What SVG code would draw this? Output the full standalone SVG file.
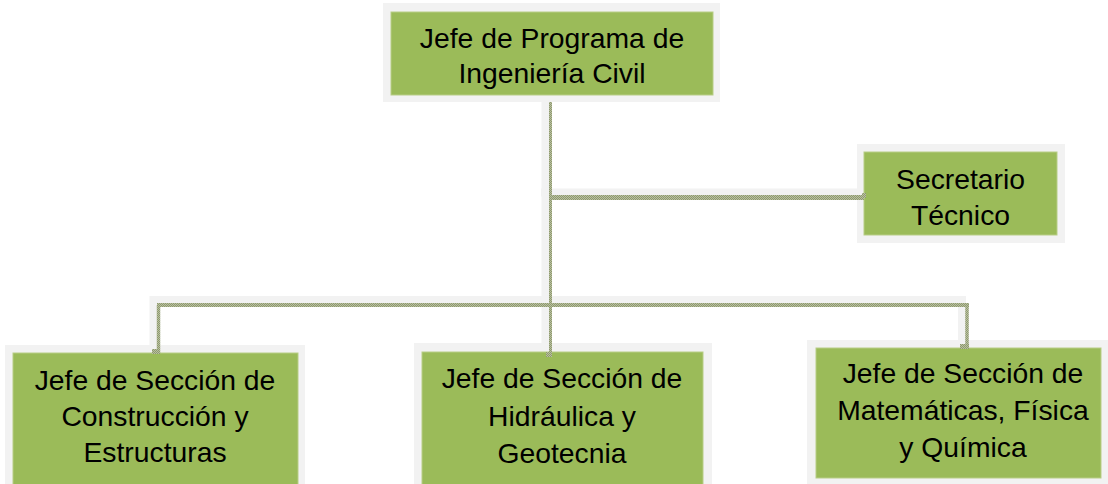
<svg xmlns="http://www.w3.org/2000/svg" width="1108" height="484" viewBox="0 0 1108 484">
  <defs>
    <pattern id="dither" width="2" height="2" patternUnits="userSpaceOnUse">
      <rect width="2" height="2" fill="#b8bea3"/>
      <rect width="1" height="1" fill="#8f9b6c"/>
      <rect x="1" y="1" width="1" height="1" fill="#8f9b6c"/>
    </pattern>
    <style>
      .frame { fill: #f2f2f2; }
      .box { fill: #9bbb59; stroke: #b7cd86; stroke-width: 1; }
      .lbl { font-family: "Liberation Sans", Arial, sans-serif; font-size: 28.3px; fill: #000; text-anchor: middle; }
      .glow { fill: none; stroke: #f2f2f2; stroke-width: 8; stroke-linecap: square; }
      .line { fill: none; stroke: url(#dither); stroke-width: 4; stroke-linecap: butt; }
      .foot { fill: url(#dither); }
    </style>
  </defs>
  <rect width="1108" height="484" fill="#ffffff"/>

  <g id="jefe-programa">
    <rect class="frame" x="383" y="3" width="337" height="99"/>
    <rect class="box" x="391" y="12" width="322" height="83"/>
    <text class="lbl" x="552" y="48">Jefe de Programa de</text>
    <text class="lbl" x="552" y="83">Ingeniería Civil</text>
  </g>

  <g id="secretario">
    <rect class="frame" x="857" y="144" width="208" height="99"/>
    <rect class="box" x="864" y="152" width="193" height="83"/>
    <text class="lbl" x="960.5" y="189">Secretario</text>
    <text class="lbl" x="960.5" y="225">Técnico</text>
  </g>

  <g id="construccion">
    <rect class="frame" x="5" y="345" width="300" height="145"/>
    <rect class="box" x="13" y="353" width="285" height="140"/>
    <text class="lbl" x="155" y="390">Jefe de Sección de</text>
    <text class="lbl" x="155" y="426">Construcción y</text>
    <text class="lbl" x="155" y="462">Estructuras</text>
  </g>

  <g id="hidraulica">
    <rect class="frame" x="414" y="343" width="298" height="147"/>
    <rect class="box" x="422" y="352" width="281" height="140"/>
    <text class="lbl" x="562" y="388">Jefe de Sección de</text>
    <text class="lbl" x="562" y="426">Hidráulica y</text>
    <text class="lbl" x="562" y="463">Geotecnia</text>
  </g>

  <g id="matematicas">
    <rect class="frame" x="807" y="340" width="305" height="150"/>
    <rect class="box" x="816" y="348" width="285" height="130"/>
    <text class="lbl" x="963" y="383">Jefe de Sección de</text>
    <text class="lbl" x="963" y="420">Matemáticas, Física</text>
    <text class="lbl" x="963" y="457">y Química</text>
  </g>

  <g id="connectors">
    <g transform="translate(-5,-5)">
      <path class="glow" d="M550.5 108 V352 M550 197.5 H858 M158.5 305 H967 M158.5 305 V350 M967 305 V345"/>
    </g>
    <path class="line" style="stroke-width:3" d="M550.5 102 V352"/>
    <path class="line" style="stroke-width:5" d="M549 197.5 H864"/>
    <path class="line" d="M157 305 H969"/>
    <path class="line" style="stroke-width:3.5" d="M158.5 305 V353"/>
    <path class="line" style="stroke-width:3.5" d="M967 305 V348"/>
    <rect class="foot" x="862" y="193" width="4" height="5"/>
    <rect class="foot" x="546" y="352" width="6" height="5"/>
    <rect class="foot" x="960" y="344" width="9" height="5"/>
    <rect class="foot" x="152" y="349" width="8" height="5"/>
  </g>
</svg>
